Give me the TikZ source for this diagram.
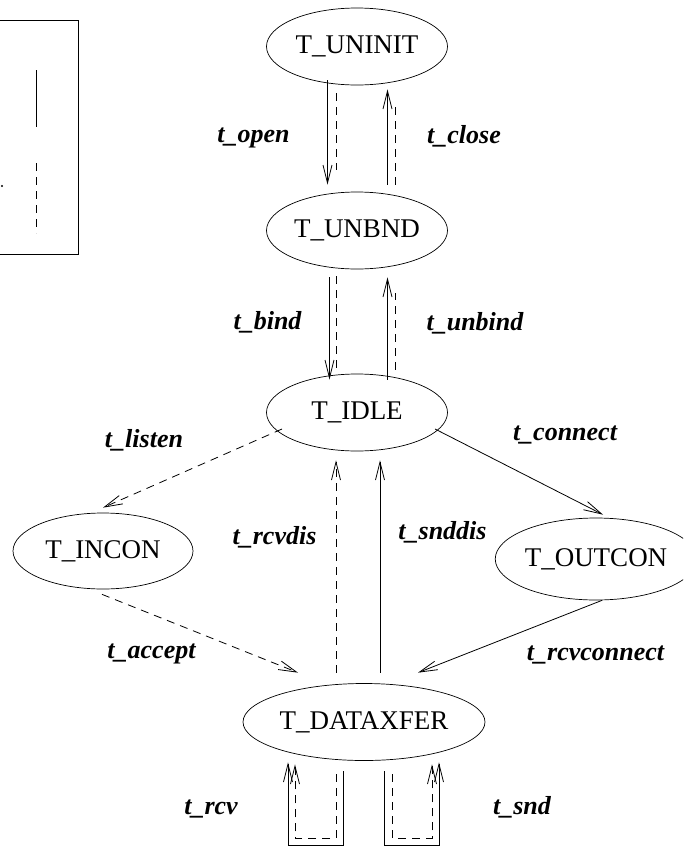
\documentclass[tikz,border=0pt]{standalone}
\usepackage{fontspec}
\setmainfont{Liberation Serif}
\usetikzlibrary{arrows.meta,shapes.geometric,calc}

\begin{document}
\begin{tikzpicture}[
    x=1pt, y=-1pt,
    state/.style={ellipse, draw=black, line width=0.7pt, inner sep=0pt, minimum width=181pt, minimum height=77pt, font=\fontsize{27}{32}\selectfont},
    lbl/.style={anchor=base, inner sep=0pt, font=\fontsize{26}{30}\selectfont\bfseries\itshape},
    arrow/.style={-{Straight Barb[length=18pt,width=9pt]}, line width=0.8pt, draw=black},
    darrow/.style={arrow, dash pattern=on 8pt off 6pt},
    dline/.style={line width=0.8pt, draw=black, dash pattern=on 8pt off 6pt}
]
\useasboundingbox (0,0) rectangle (683,846);
\clip (0,0) rectangle (683,846);

% Legend (cut off at the left margin)
\draw[line width=0.8pt] (-10,20) rectangle (78.5,254);
\draw[line width=0.8pt] (36,70) -- (36,127);
\draw[dline] (36,163) -- (36,233);
\fill (2,186) circle (1.2pt);

% States
\node[state] (uninit) at (357,46.5) {T\_UNINIT};
\node[state] (unbnd) at (357,230.5) {T\_UNBND};
\node[state] (idle) at (357,412.5) {T\_IDLE};
\node[state, minimum width=180pt, minimum height=76pt] (incon) at (103,551) {T\_INCON};
\node[state, minimum width=170pt, minimum height=82pt] (outcon) at (596,559) {T\_OUTCON};
\node[state, minimum width=242pt] (dataxfer) at (364,722) {T\_DATAXFER};

% t_open / t_close
\draw[arrow] ($(uninit.south)+(-29.5,-5)$) -- ($(unbnd.north)+(-29.5,-7)$);
\draw[dline] ($(uninit.south)+(-21,8)$) -- ($(unbnd.north)+(-21,-22)$);
\draw[arrow] ($(unbnd.north)+(30.5,-7)$) -- ($(uninit.south)+(30.5,4)$);
\draw[dline] ($(unbnd.north)+(38.5,-7)$) -- ($(uninit.south)+(38.5,22)$);

% t_bind / t_unbind
\draw[arrow] ($(unbnd.south)+(-27.5,8)$) -- ($(idle.north)+(-27.5,6)$);
\draw[dline] ($(unbnd.south)+(-21,7)$) -- ($(idle.north)+(-21,-4)$);
\draw[arrow] ($(idle.north)+(30.5,6)$) -- ($(unbnd.south)+(30.5,8)$);
\draw[dline] ($(idle.north)+(38.5,-4)$) -- ($(unbnd.south)+(38.5,24)$);

% listen / connect
\draw[darrow] ($(idle.center)+(-75,16.5)$) -- ($(incon.north)+(0,-5)$);
\draw[arrow] ($(idle.center)+(78,16.5)$) -- ($(outcon.north)+(7,-3)$);

% disconnects
\draw[darrow] ($(dataxfer.north)+(-28,-10.5)$) -- ($(idle.south)+(-21,9)$);
\draw[arrow] ($(dataxfer.north)+(16,-10.5)$) -- ($(idle.south)+(23,9)$);

% accept / rcvconnect
\draw[darrow] ($(incon.south)+(-1,5)$) -- ($(dataxfer.north)+(-66,-10.5)$);
\draw[arrow] ($(outcon.south)+(6,0)$) -- ($(dataxfer.north)+(54,-10.5)$);

% t_rcv / t_snd loops
\draw[arrow] ($(dataxfer.south)+(-21,10.5)$) |- ($(dataxfer.south)+(-76,84.5)$) -- ($(dataxfer.south)+(-76,1.5)$);
\draw[darrow] ($(dataxfer.south)+(-28,13.5)$) |- ($(dataxfer.south)+(-69,77.5)$) -- ($(dataxfer.south)+(-69,3.5)$);
\draw[arrow] ($(dataxfer.south)+(20,10.5)$) |- ($(dataxfer.south)+(75,84.5)$) -- ($(dataxfer.south)+(75,1.5)$);
\draw[darrow] ($(dataxfer.south)+(28,13.5)$) |- ($(dataxfer.south)+(68,77.5)$) -- ($(dataxfer.south)+(68,3.5)$);

% Labels
\node[lbl] (lopen) at (253.5,142.7) {t\_open};
\node[lbl] (lclose) at (464,143.3) {t\_close};
\node[lbl] (lbind) at (267.5,329.3) {t\_bind};
\node[lbl] (lunbind) at (475,330.7) {t\_unbind};
\node[lbl] (llisten) at (144,447.7) {t\_listen};
\node[lbl] (lconnect) at (565,440) {t\_connect};
\node[lbl] (lrcvdis) at (274.5,544.3) {t\_rcvdis};
\node[lbl] (lsnddis) at (442.5,539.3) {t\_snddis};
\node[lbl] (laccept) at (151.5,658.3) {t\_accept};
\node[lbl] (lrcvconnect) at (595.5,660.7) {t\_rcvconnect};
\node[lbl] (lrcv) at (211,814.3) {t\_rcv};
\node[lbl] (lsnd) at (522,814.3) {t\_snd};

\end{tikzpicture}
\end{document}
